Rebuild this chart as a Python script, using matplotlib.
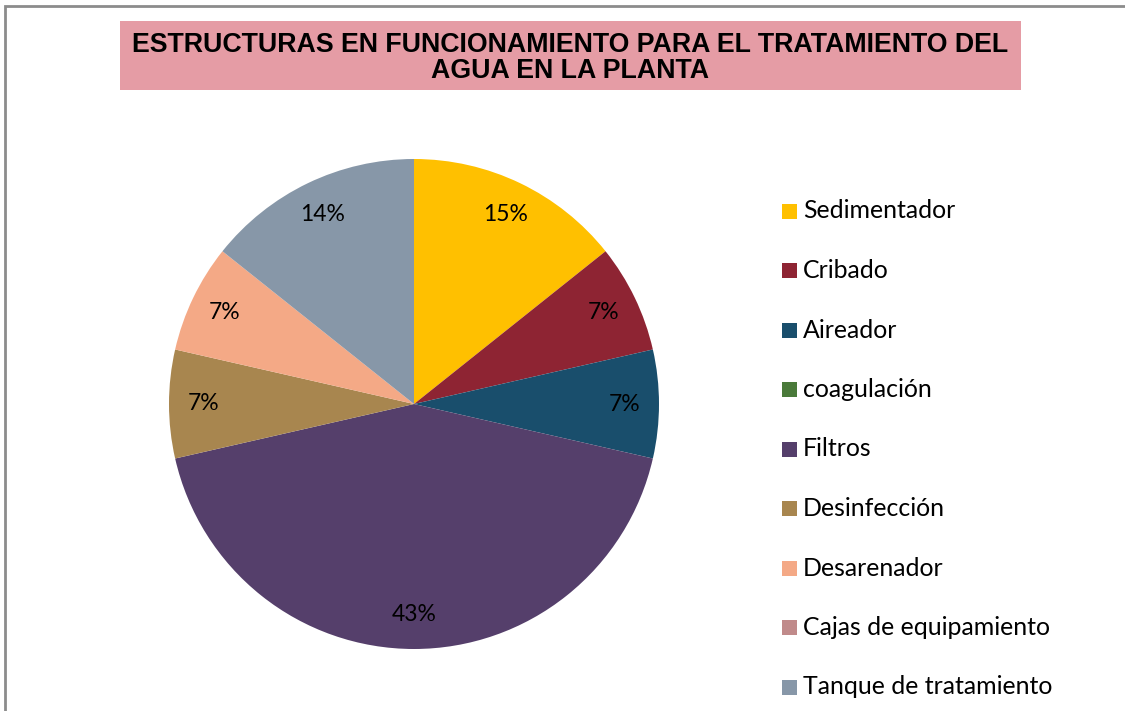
import numpy as np
from matplotlib import pyplot as plt
from matplotlib.patches import Rectangle

categories = ["Sedimentador", "Cribado", "Aireador", "coagulación", "Filtros",
              "Desinfección", "Desarenador", "Cajas de equipamiento", "Tanque de tratamiento"]
counts = [2, 1, 1, 0, 6, 1, 1, 0, 2]
pct_labels = ["15%", "7%", "7%", "", "43%", "7%", "7%", "", "14%"]
colors = ["#FFC000", "#8E2433", "#194E6C", "#4A7A3A", "#553F6B",
          "#A8864F", "#F4A986", "#C08A8A", "#8797A8"]
title = "ESTRUCTURAS EN FUNCIONAMIENTO PARA EL TRATAMIENTO DEL\nAGUA EN LA PLANTA"

W, H = 1125, 711
fig = plt.figure(figsize=(W/100, H/100), dpi=100)

# outer frame (only left and top edges visible)
fig.patches.append(Rectangle((5/W, -0.1), 2, 1.1 - 6/H, transform=fig.transFigure,
                             fill=False, edgecolor="#8c8c8c", linewidth=2))

# title box
fig.patches.append(Rectangle((120/W, 1-90/H), 901/W, 69/H, transform=fig.transFigure,
                             facecolor="#E59CA5", edgecolor="none"))
fig.text(570/W, 1-58/H, title, ha="center", va="center", fontsize=19.3,
         fontweight="bold", family="Liberation Sans", linespacing=0.95)

ax = fig.add_axes([169/W, 1-649/H, 490/W, 490/H])
wedges, texts = ax.pie(counts, colors=colors, startangle=90, counterclock=False,
                       labels=pct_labels, labeldistance=0.86,
                       wedgeprops=dict(linewidth=0),
                       textprops=dict(fontsize=16.5, family="Lato", color="black",
                                      ha="center", va="center"))
for t in texts:
    t.set_ha("center")
ax.set_xlim(-1, 1)
ax.set_ylim(-1, 1)
ax.set_aspect("equal")
ax.axis("off")

# legend
for i, (name, c) in enumerate(zip(categories, colors)):
    y = 1 - (211 + i*59.5)/H
    fig.patches.append(Rectangle((782/W, y-7.5/H), 15/W, 15/H, transform=fig.transFigure,
                                 facecolor=c, edgecolor="none"))
    fig.text(803/W, y, name, ha="left", va="center", fontsize=17.9, family="Lato")

fig.savefig("out.png", dpi=100)
